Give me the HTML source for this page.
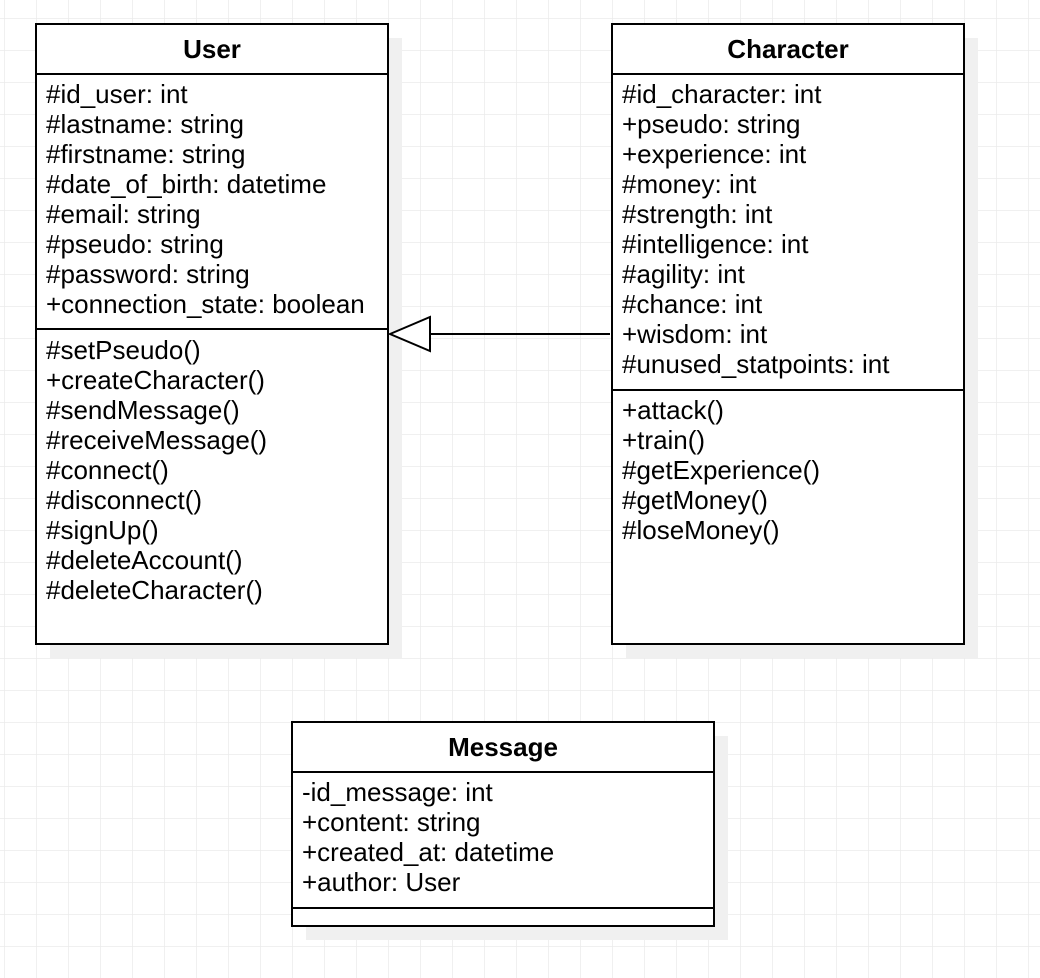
<!DOCTYPE html>
<html><head><style>
html,body{margin:0;padding:0;background:#fff;}
svg{display:block;}
text{font-family:"Liberation Sans",Arial,sans-serif;font-size:26px;fill:#000;}
.b{font-weight:bold;}
</style></head><body>
<svg width="1040" height="978" viewBox="0 0 1040 978" xmlns="http://www.w3.org/2000/svg">
<defs>
<pattern id="g" x="4" y="18" width="32" height="32" patternUnits="userSpaceOnUse">
<path d="M0 0H32M0 0V32" stroke="#ebebeb" stroke-width="1.5" fill="none"/>
</pattern>
</defs>
<rect width="1040" height="978" fill="url(#g)"/>
<rect x="50" y="38" width="352" height="620" fill="#f0f0f0"/>
<rect x="626" y="38" width="352" height="620" fill="#f0f0f0"/>
<rect x="306" y="736" width="422" height="204" fill="#f0f0f0"/>
<g fill="#fff" stroke="#000" stroke-width="2">
<rect x="36" y="24" width="352" height="620"/>
<line x1="36" y1="74" x2="388" y2="74"/>
<line x1="36" y1="329" x2="388" y2="329"/>
<rect x="612" y="24" width="352" height="620"/>
<line x1="612" y1="74" x2="964" y2="74"/>
<line x1="612" y1="390" x2="964" y2="390"/>
<rect x="292" y="722" width="422" height="204"/>
<line x1="292" y1="772" x2="714" y2="772"/>
<line x1="292" y1="908" x2="714" y2="908"/>
</g>
<line x1="610" y1="334" x2="430" y2="334" stroke="#000" stroke-width="2"/>
<polygon points="390,334 430,317 430,351" fill="#fff" stroke="#000" stroke-width="2"/>
<text class="b" x="212" y="58" text-anchor="middle">User</text>
<text class="b" x="788" y="58" text-anchor="middle">Character</text>
<text class="b" x="503" y="756" text-anchor="middle">Message</text>
<g>
<text x="46" y="103">#id_user: int</text>
<text x="46" y="133">#lastname: string</text>
<text x="46" y="163">#firstname: string</text>
<text x="46" y="193">#date_of_birth: datetime</text>
<text x="46" y="223">#email: string</text>
<text x="46" y="253">#pseudo: string</text>
<text x="46" y="283">#password: string</text>
<text x="46" y="313">+connection_state: boolean</text>
<text x="46" y="359">#setPseudo()</text>
<text x="46" y="389">+createCharacter()</text>
<text x="46" y="419">#sendMessage()</text>
<text x="46" y="449">#receiveMessage()</text>
<text x="46" y="479">#connect()</text>
<text x="46" y="509">#disconnect()</text>
<text x="46" y="539">#signUp()</text>
<text x="46" y="569">#deleteAccount()</text>
<text x="46" y="599">#deleteCharacter()</text>
</g>
<g>
<text x="622" y="103">#id_character: int</text>
<text x="622" y="133">+pseudo: string</text>
<text x="622" y="163">+experience: int</text>
<text x="622" y="193">#money: int</text>
<text x="622" y="223">#strength: int</text>
<text x="622" y="253">#intelligence: int</text>
<text x="622" y="283">#agility: int</text>
<text x="622" y="313">#chance: int</text>
<text x="622" y="343">+wisdom: int</text>
<text x="622" y="373">#unused_statpoints: int</text>
<text x="622" y="419">+attack()</text>
<text x="622" y="449">+train()</text>
<text x="622" y="479">#getExperience()</text>
<text x="622" y="509">#getMoney()</text>
<text x="622" y="539">#loseMoney()</text>
</g>
<g>
<text x="302" y="801">-id_message: int</text>
<text x="302" y="831">+content: string</text>
<text x="302" y="861">+created_at: datetime</text>
<text x="302" y="891">+author: User</text>
</g>
</svg>
</body></html>
